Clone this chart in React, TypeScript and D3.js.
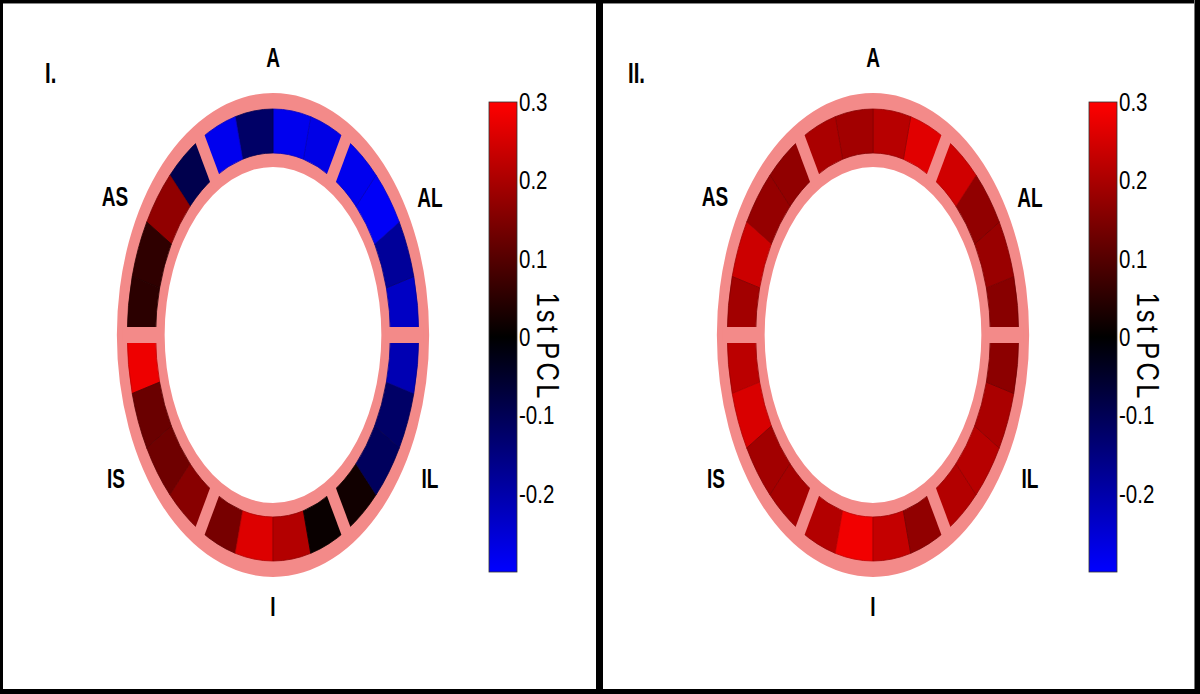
import React from 'react';
import * as d3 from 'd3';

// ---- data ----
const panelLabels: string[] = ['I.', 'II.'];
const regionLabels: string[] = ['A', 'AS', 'AL', 'IS', 'IL', 'I'];
// 24 segments, index k spans [15k, 15k+15] degrees, counter-clockwise from 3 o'clock
const valuesI: number[] = [
  -0.23, -0.18, -0.29, -0.28,
  -0.27, -0.28, -0.12, -0.28,
  -0.09, 0.17, 0.055, 0.05,
  0.28, 0.125, 0.13, 0.16,
  0.14, 0.26, 0.21, 0.01,
  0.02, -0.11, -0.12, -0.21,
];
const valuesII: number[] = [
  0.16, 0.18, 0.17, 0.245,
  0.265, 0.215, 0.19, 0.2,
  0.17, 0.175, 0.24, 0.19,
  0.22, 0.255, 0.19, 0.195,
  0.21, 0.285, 0.23, 0.17,
  0.21, 0.215, 0.2, 0.165,
];
const colorTicks: number[] = [0.3, 0.2, 0.1, 0, -0.1, -0.2];
const colorTickLabels: string[] = ['0.3', '0.2', '0.1', '0', '-0.1', '-0.2'];
const colorDomain: number[] = [-0.3, 0, 0.3];
const colorRange: string[] = ['#0000ff', '#000000', '#ff0000'];
const colorbarTitle = '1st PCL';
const sectorBoundaries: number[] = [0, 60, 120, 180, 240, 300];

// ---- layout ----
const W = 1200;
const H = 694;
const CX = 273;
const CY = 335;
const SX = 0.645;
const R_WHITE = 168;
const R_CELL_IN = 182;
const R_CELL_OUT = 226;
const R_OUTER = 242;
const GAP = 16;
const PINK = '#f38a89';
const labelOffsets: [number, number][] = [
  [0, -278], [-158, -139], [157, -138], [-157, 143], [157, 143], [0, 271],
];
const panelLabelX: number[] = [45, 28];
const FONT = "'Liberation Sans', Arial, sans-serif";
const NARROW = 0.82;
const BOLDNARROW = 0.68;

const color = d3.scaleLinear<string>().domain(colorDomain).range(colorRange).clamp(true);
const cbY = d3.scaleLinear().domain([-0.3, 0.3]).range([572, 102]);
const arcGen = d3.arc<any>();
const deg = Math.PI / 180;

function Ring({ values }: { values: number[] }) {
  const band = arcGen({ innerRadius: R_WHITE, outerRadius: R_OUTER, startAngle: 0, endAngle: 2 * Math.PI }) as string;
  return (
    <g transform={`translate(${CX},${CY}) scale(${SX},1)`}>
      <path d={band} fill={PINK} />
      {values.map((v, k) => {
        const d = arcGen({
          innerRadius: R_CELL_IN,
          outerRadius: R_CELL_OUT,
          startAngle: (90 - 15 * k - 15) * deg,
          endAngle: (90 - 15 * k) * deg,
        }) as string;
        const c = d3.color(color(v))!;
        return (
          <path key={k} d={d} fill={color(v)} stroke={c.darker(0.6).toString()} strokeWidth={0.8}
            vectorEffect="non-scaling-stroke" />
        );
      })}
      {sectorBoundaries.map((a) => (
        <rect key={a} x={R_CELL_IN - 8} y={-GAP / 2} width={R_CELL_OUT - R_CELL_IN + 16} height={GAP}
          fill={PINK} transform={`rotate(${-a})`} />
      ))}
    </g>
  );
}

function Panel({ values, label, gid, lx }: { values: number[]; label: string; gid: string; lx: number }) {
  return (
    <g>
      <text transform={`translate(${lx},83) scale(${BOLDNARROW},1)`} fontFamily={FONT} fontWeight="bold"
        fontSize={30} fill="#000">{label}</text>
      <Ring values={values} />
      {regionLabels.map((t, i) => (
        <text key={t} transform={`translate(${CX + labelOffsets[i][0]},${CY + labelOffsets[i][1] + 10}) scale(${BOLDNARROW},1)`}
          textAnchor="middle" fontFamily={FONT} fontWeight="bold" fontSize={28} fill="#000">{t}</text>
      ))}
      <defs>
        <linearGradient id={gid} x1="0" y1="1" x2="0" y2="0">
          {d3.range(0, 1.0001, 0.1).map((t) => (
            <stop key={t} offset={t} stopColor={color(-0.3 + 0.6 * t)} />
          ))}
        </linearGradient>
      </defs>
      <rect x={489} y={cbY(0.3)} width={28} height={cbY(-0.3) - cbY(0.3)} fill={`url(#${gid})`}
        stroke="#333" strokeWidth={0.8} />
      {colorTicks.map((v, i) => (
        <text key={v} transform={`translate(519,${cbY(v) + 9}) scale(${NARROW},1)`} fontFamily={FONT}
          fontSize={25} fill="#000">{colorTickLabels[i]}</text>
      ))}
      <text transform={`translate(537,347) rotate(90) scale(${NARROW},1)`} textAnchor="middle" fontFamily={FONT}
        fontSize={31} letterSpacing={4} wordSpacing={-5} fill="#000">{colorbarTitle}</text>
    </g>
  );
}

export default function App() {
  return (
    <svg width={W} height={H} style={{ position: 'absolute', left: 0, top: 0, background: '#fff' }}>
      <rect x={0} y={0} width={W} height={H} fill="#fff" />
      <g>
        <Panel values={valuesI} label={panelLabels[0]} gid="cb1" lx={panelLabelX[0]} />
      </g>
      <g transform="translate(600,0)">
        <Panel values={valuesII} label={panelLabels[1]} gid="cb2" lx={panelLabelX[1]} />
      </g>
      <rect x={0} y={0} width={W} height={3} fill="#000" />
      <rect x={0} y={3} width={W} height={1} fill="#888" />
      <rect x={0} y={0} width={3} height={H} fill="#000" />
      <rect x={1195} y={0} width={5} height={H} fill="#000" />
      <rect x={1194} y={0} width={1} height={H} fill="#777" />
      <rect x={0} y={689} width={W} height={5} fill="#000" />
      <rect x={596} y={0} width={7} height={H} fill="#000" />
    </svg>
  );
}
